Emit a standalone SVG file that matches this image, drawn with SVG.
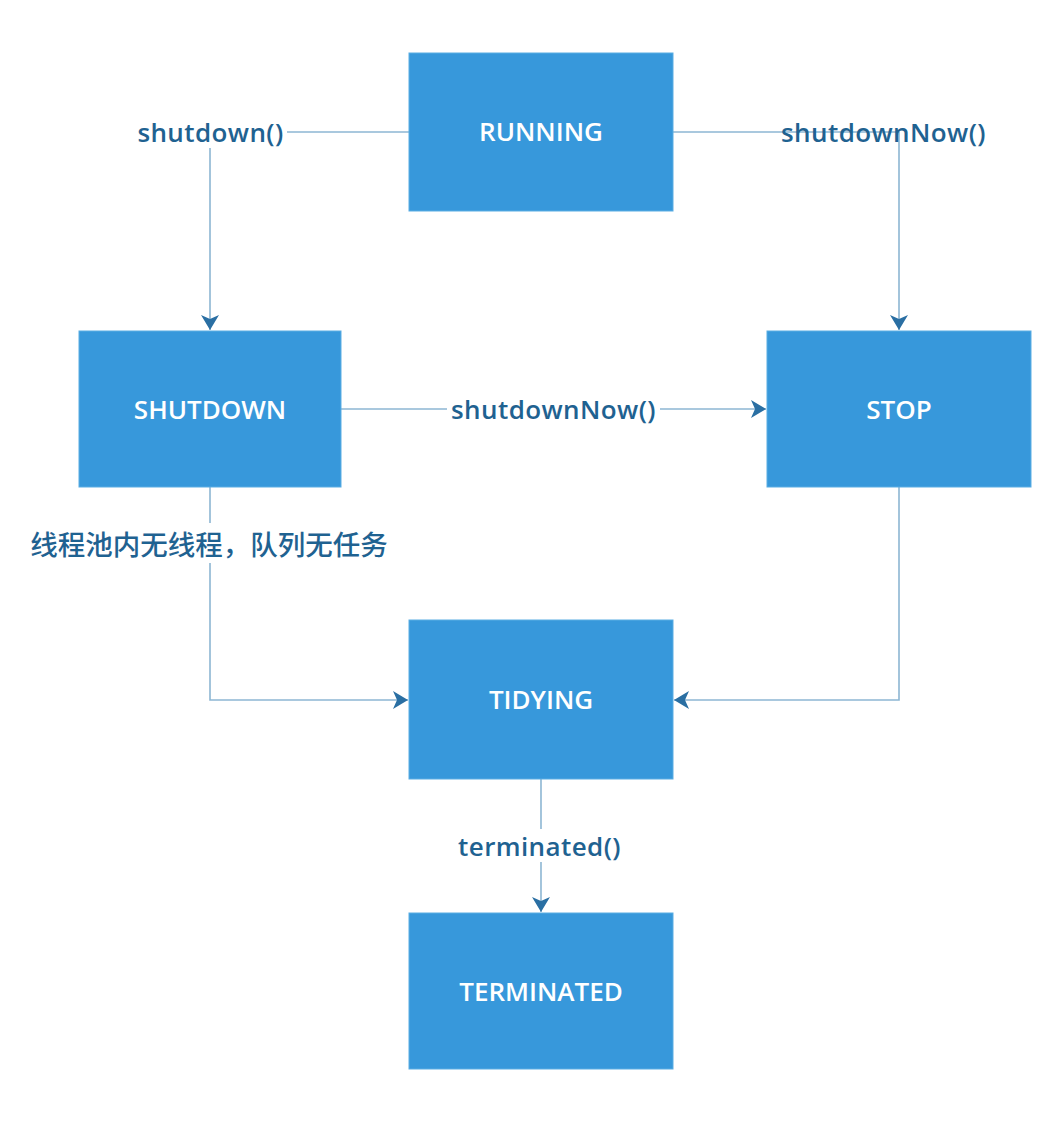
<svg xmlns="http://www.w3.org/2000/svg" width="1062" height="1124" viewBox="0 0 1062 1124">
<defs>
<style>
.box{fill:#3798db;stroke:#5aade3;stroke-width:1}
.bt{font-family:"Open Sans","Liberation Sans",sans-serif;font-size:26px;font-weight:600;fill:#ffffff;text-anchor:middle}
.lbl{font-family:"Open Sans","Liberation Sans",sans-serif;font-size:26px;font-weight:600;fill:#1f6291;text-anchor:middle;letter-spacing:0.4px}
.cjk{font-family:"Noto Sans CJK SC",sans-serif;font-size:27.5px;font-weight:500;fill:#1f6291;text-anchor:middle}
.ln{fill:none;stroke:#8db6d3;stroke-width:1.6}
.bg{fill:#ffffff}
</style>
<marker id="arr" markerUnits="userSpaceOnUse" markerWidth="16" markerHeight="18" viewBox="0 0 16 18" refX="15" refY="9" orient="auto">
<path d="M0,0 L15,9 L0,18 L4,9 z" fill="#2a6fa3"/>
</marker>
</defs>
<rect width="1062" height="1124" fill="#ffffff"/>
<g id="connectors">
<path class="ln" d="M409,132 H210 V330" marker-end="url(#arr)"/>
<path class="ln" d="M673,132 H899 V330" marker-end="url(#arr)"/>
<path class="ln" d="M341,409 H766" marker-end="url(#arr)"/>
<path class="ln" d="M210,487 V700 H408" marker-end="url(#arr)"/>
<path class="ln" d="M899,487 V700 H674" marker-end="url(#arr)"/>
<path class="ln" d="M541,779 V912" marker-end="url(#arr)"/>
<rect class="bg" x="133" y="117" width="154" height="31"/>
<text class="lbl" x="210.5" y="142">shutdown()</text>
<text class="lbl" x="883.5" y="142">shutdownNow()</text>
<rect class="bg" x="447" y="394" width="213" height="31"/>
<text class="lbl" x="553.5" y="419">shutdownNow()</text>
<rect class="bg" x="26" y="523" width="366" height="40"/>
<text class="cjk" x="209" y="555">线程池内无线程，队列无任务</text>
<rect class="bg" x="454" y="829" width="172" height="33"/>
<text class="lbl" x="539.5" y="856">terminated()</text>
</g>
<g id="running"><rect class="box" x="409" y="53" width="264" height="158"/><text class="bt" x="541" y="141">RUNNING</text></g>
<g id="shutdown"><rect class="box" x="79" y="331" width="262" height="156"/><text class="bt" x="210" y="419">SHUTDOWN</text></g>
<g id="stop"><rect class="box" x="767" y="331" width="264" height="156"/><text class="bt" x="899" y="419">STOP</text></g>
<g id="tidying"><rect class="box" x="409" y="620" width="264" height="159"/><text class="bt" x="541" y="709">TIDYING</text></g>
<g id="terminated"><rect class="box" x="409" y="913" width="264" height="156"/><text class="bt" x="541" y="1001">TERMINATED</text></g>
</svg>
